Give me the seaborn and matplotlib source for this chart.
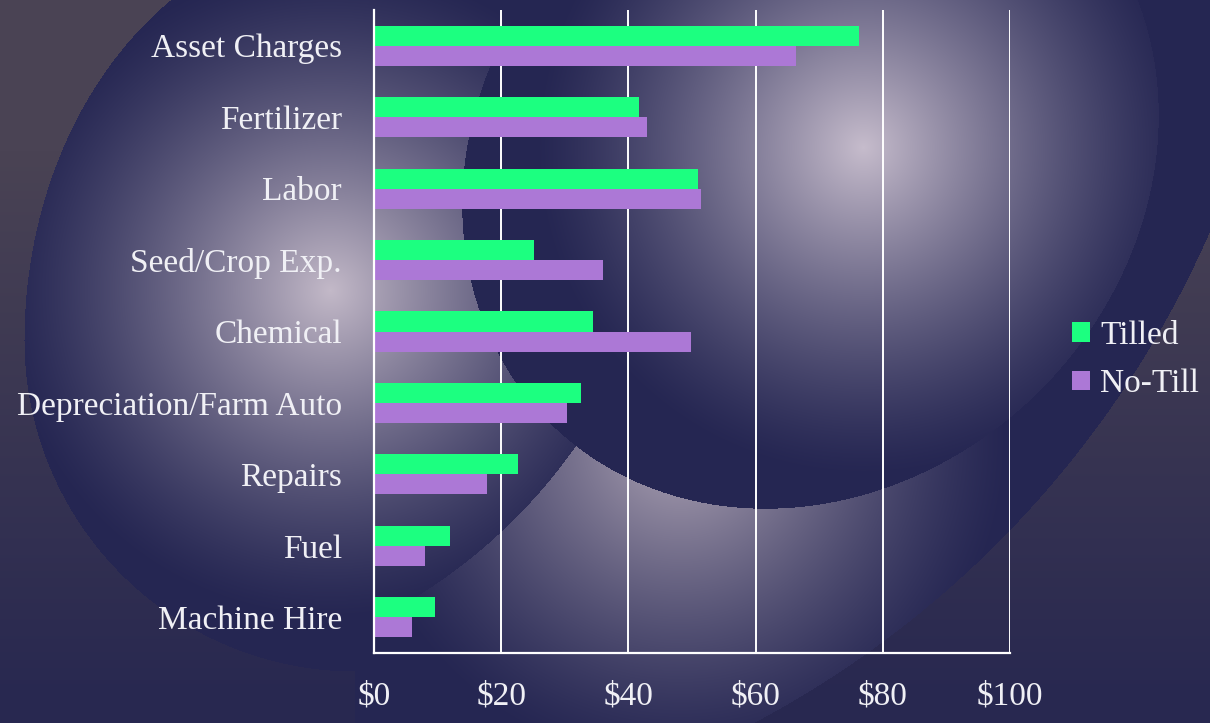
import numpy as np
import pandas as pd
import seaborn as sns
import matplotlib.pyplot as plt
from matplotlib.patches import Patch

# values ($ per acre)
items = ["Asset Charges", "Fertilizer", "Labor", "Seed/Crop Exp.", "Chemical",
         "Depreciation/Farm Auto", "Repairs", "Fuel", "Machine Hire"]
tilled = [76.3, 41.7, 50.9, 25.2, 34.5, 32.6, 22.6, 11.9, 9.6]
no_till = [66.4, 42.9, 51.4, 36.0, 49.8, 30.4, 17.8, 8.0, 5.9]
series = ["Tilled", "No-Till"]
colors = ["#1cff80", "#ac78d6"]
xticks = [0, 20, 40, 60, 80, 100]
xticklabels = ["$0", "$20", "$40", "$60", "$80", "$100"]

df = pd.DataFrame({
    "item": items + items,
    "cost": tilled + no_till,
    "system": [series[0]] * len(items) + [series[1]] * len(items),
})

W, H = 1210, 723
txt = "#f0f0f5"


def backdrop():
    # dark navy slide with three shaded spheres
    yy, xx = np.mgrid[0:H, 0:W].astype(float)
    navy = np.array([37, 38, 82]) / 255

    def glow(cx, cy, rad, light, p=1.3):
        t = np.clip(1 - np.hypot(xx - cx, yy - cy) / rad, 0, 1) ** p
        return navy + t[..., None] * (np.array(light) / 255 - navy)

    # greyish wall behind everything
    k = np.clip((yy - 150) / 550, 0, 1)[..., None]
    wall = (1 - k) * np.array([74, 67, 84]) / 255 + k * np.array([40, 40, 80]) / 255
    img = wall.copy()

    in_d = np.hypot(xx - 277, yy + 177) < 1018
    in_c1 = np.hypot(xx - 129, yy - 133) < 545
    dx, dy = xx - 810, yy - 160
    s = (-dx + dy) / np.sqrt(2)
    q = (dx + dy) / np.sqrt(2)
    in_s2 = (s / 370) ** 2 + (q / 325) ** 2 < 1
    ry = np.where(yy < 340, 410, 331)
    corner = (((xx - 355) / 331) ** 2 + ((yy - 340) / ry) ** 2 > 1) & (xx < 355)

    s3 = glow(680, 440, 330, (175, 165, 182))
    s1 = glow(330, 290, 330, (195, 185, 200))
    s2 = glow(863, 147, 330, (198, 188, 204))
    img[in_d] = s3[in_d]
    m = in_d & in_c1
    img[m] = s1[m]
    img[in_s2] = s2[in_s2]
    img[corner] = wall[corner]
    return img


sns.set_style("white")
plt.rcParams["font.family"] = ["Liberation Serif", "DejaVu Serif"]
plt.rcParams["font.size"] = 24

fig = plt.figure(figsize=(W / 100, H / 100), dpi=100)
bg = fig.add_axes([0, 0, 1, 1], zorder=0)
bg.imshow(backdrop(), extent=(0, W, H, 0), aspect="auto", interpolation="bilinear")
bg.axis("off")

ax = fig.add_axes([374 / W, 70 / H, 636 / W, 643 / H], zorder=1)
ax.patch.set_alpha(0)

sns.barplot(data=df, x="cost", y="item", hue="system", hue_order=series,
            palette=colors, orient="h", width=0.56, saturation=1,
            errorbar=None, linewidth=0, legend=False, ax=ax)

ax.set_xlim(0, 100)
ax.set_ylim(len(items) - 0.5, -0.5)
ax.set_xticks(xticks)
ax.set_xticklabels(xticklabels)
ax.set_yticks(np.arange(len(items) + 1) - 0.5, minor=True)
ax.set_xlabel("")
ax.set_ylabel("")

ax.set_axisbelow(True)
ax.xaxis.grid(True, color="white", linewidth=1.4)
ax.yaxis.grid(False)
for side in ["top", "right"]:
    ax.spines[side].set_visible(False)
for side in ["left", "bottom"]:
    ax.spines[side].set_color("white")
    ax.spines[side].set_linewidth(1.6)

ax.tick_params(axis="y", which="major", length=0, pad=23, labelcolor=txt)
ax.tick_params(axis="y", which="minor", length=8, width=1.4, color="white")
ax.tick_params(axis="x", length=8, width=1.4, color="white", pad=12, labelcolor=txt)

handles = [Patch(facecolor=c, edgecolor="none", label=s) for s, c in zip(series, colors)]
fig.legend(handles=handles, loc="center left", bbox_to_anchor=(1042 / W, 1 - 360 / H),
           frameon=False, fontsize=24, handlelength=0.54, handleheight=0.54,
           handletextpad=0.3, labelspacing=0.53, labelcolor=txt)

fig.savefig("out.png", dpi=100)
